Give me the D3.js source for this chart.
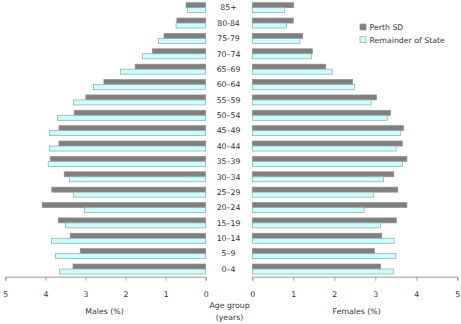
<!DOCTYPE html>
<html>
<head>
<meta charset="utf-8">
<script src="https://cdn.jsdelivr.net/npm/d3@7/dist/d3.min.js"></script>
<style>
  html, body { margin: 0; padding: 0; background: #fff; }
  svg { display: block; }
  text { font-family: "DejaVu Sans", Verdana, sans-serif; font-size: 7.8px; fill: #333; }
</style>
</head>
<body>
<svg id="chart" width="461" height="324"></svg>
<script>
// Age groups, oldest at the top
const ageGroups = ["85+", "80-84", "75-79", "70–74", "65–69", "60–64", "55–59", "50–54", "45–49",
  "40–44", "35–39", "30–34", "25–29", "20–24", "15–19", "10–14", "5–9", "0–4"];

const seriesNames = ["Perth SD", "Remainder of State"];

// Males (% of population), same order as ageGroups
const malesPerth = [0.49, 0.72, 1.04, 1.33, 1.76, 2.54, 2.99, 3.28, 3.66,
  3.66, 3.88, 3.53, 3.84, 4.08, 3.68, 3.38, 3.13, 3.31];
const malesRest = [0.45, 0.74, 1.18, 1.58, 2.13, 2.80, 3.30, 3.70, 3.90,
  3.90, 3.93, 3.40, 3.30, 3.03, 3.50, 3.85, 3.75, 3.65];

// Females (% of population)
const femalesPerth = [1.01, 1.00, 1.23, 1.47, 1.79, 2.45, 3.03, 3.37, 3.69,
  3.66, 3.77, 3.45, 3.55, 3.77, 3.52, 3.16, 2.98, 3.13];
const femalesRest = [0.78, 0.83, 1.16, 1.44, 1.95, 2.49, 2.90, 3.29, 3.61,
  3.51, 3.66, 3.20, 2.95, 2.73, 3.13, 3.46, 3.50, 3.44];

const tickValues = [0, 1, 2, 3, 4, 5];

const colors = { "Perth SD": "#7f7f7f", "Remainder of State": "#ccffff" };
const strokes = { "Perth SD": "#8f8f8f", "Remainder of State": "#8aa8a8" };

const svg = d3.select("#chart");

const axisY = 276.7;
const y = d3.scaleBand().domain(ageGroups).range([0, axisY])
  .paddingInner(0.35).paddingOuter(0.175);
const ySub = d3.scaleBand().domain(seriesNames).range([0, y.bandwidth()]);

const xLeft = d3.scaleLinear().domain([0, 5]).range([205.7, 5.3]);
const xRight = d3.scaleLinear().domain([0, 5]).range([252.3, 457.3]);

function rows(values, series) {
  return ageGroups.map((age, i) => ({ age, series, value: values[i] }));
}

const leftData = rows(malesPerth, "Perth SD").concat(rows(malesRest, "Remainder of State"));
const rightData = rows(femalesPerth, "Perth SD").concat(rows(femalesRest, "Remainder of State"));

// Male bars grow leftwards from zero
svg.append("g").selectAll("rect").data(leftData).join("rect")
  .attr("x", d => xLeft(d.value))
  .attr("y", d => y(d.age) + ySub(d.series))
  .attr("width", d => xLeft(0) - xLeft(d.value))
  .attr("height", ySub.bandwidth())
  .attr("fill", d => colors[d.series])
  .attr("stroke", d => strokes[d.series])
  .attr("stroke-width", 0.7);

// Female bars grow rightwards from zero
svg.append("g").selectAll("rect").data(rightData).join("rect")
  .attr("x", xRight(0))
  .attr("y", d => y(d.age) + ySub(d.series))
  .attr("width", d => xRight(d.value) - xRight(0))
  .attr("height", ySub.bandwidth())
  .attr("fill", d => colors[d.series])
  .attr("stroke", d => strokes[d.series])
  .attr("stroke-width", 0.7);

// Age group labels in the centre column
svg.append("g").selectAll("text").data(ageGroups).join("text")
  .attr("x", (xLeft(0) + xRight(0)) / 2 - 0.5)
  .attr("y", d => y(d) + y.bandwidth() / 2)
  .attr("dy", "0.35em")
  .attr("text-anchor", "middle")
  .text(d => d);

// Bottom axes
function styleAxis(g) {
  g.select(".domain").attr("stroke", "#9a9a9a");
  g.selectAll(".tick line").attr("stroke", "#9a9a9a");
  g.selectAll(".tick text")
    .attr("font-family", "DejaVu Sans, Verdana, sans-serif")
    .attr("font-size", "7.8px").attr("fill", "#333").attr("dy", "1.15em");
}

svg.append("g").attr("transform", `translate(0,${axisY})`)
  .call(d3.axisBottom(xLeft).tickValues(tickValues).tickSizeOuter(0).tickSize(4).tickPadding(7)
    .tickFormat(d3.format("d")))
  .call(styleAxis);

svg.append("g").attr("transform", `translate(0,${axisY})`)
  .call(d3.axisBottom(xRight).tickValues(tickValues).tickSizeOuter(0).tickSize(4).tickPadding(7)
    .tickFormat(d3.format("d")))
  .call(styleAxis);

// Axis titles
svg.append("text").attr("x", 104.5).attr("y", 311.5).attr("dy", "0.35em")
  .attr("text-anchor", "middle").text("Males (%)");
svg.append("text").attr("x", 356.7).attr("y", 311.5).attr("dy", "0.35em")
  .attr("text-anchor", "middle").text("Females (%)");
svg.append("text").attr("x", 229.5).attr("y", 305.5).attr("dy", "0.35em")
  .attr("text-anchor", "middle").text("Age group");
svg.append("text").attr("x", 229.5).attr("y", 317.5).attr("dy", "0.35em")
  .attr("text-anchor", "middle").text("(years)");

// Legend
const legend = svg.append("g").attr("transform", "translate(360,24)");
const legendItem = legend.selectAll("g").data(seriesNames).join("g")
  .attr("transform", (d, i) => `translate(0,${i * 12.7})`);
legendItem.append("rect")
  .attr("width", 6).attr("height", 6)
  .attr("fill", d => colors[d])
  .attr("stroke", d => strokes[d]).attr("stroke-width", 0.7);
legendItem.append("text")
  .attr("x", 9.5).attr("y", 3.3).attr("dy", "0.35em")
  .text(d => d);
</script>
</body>
</html>
